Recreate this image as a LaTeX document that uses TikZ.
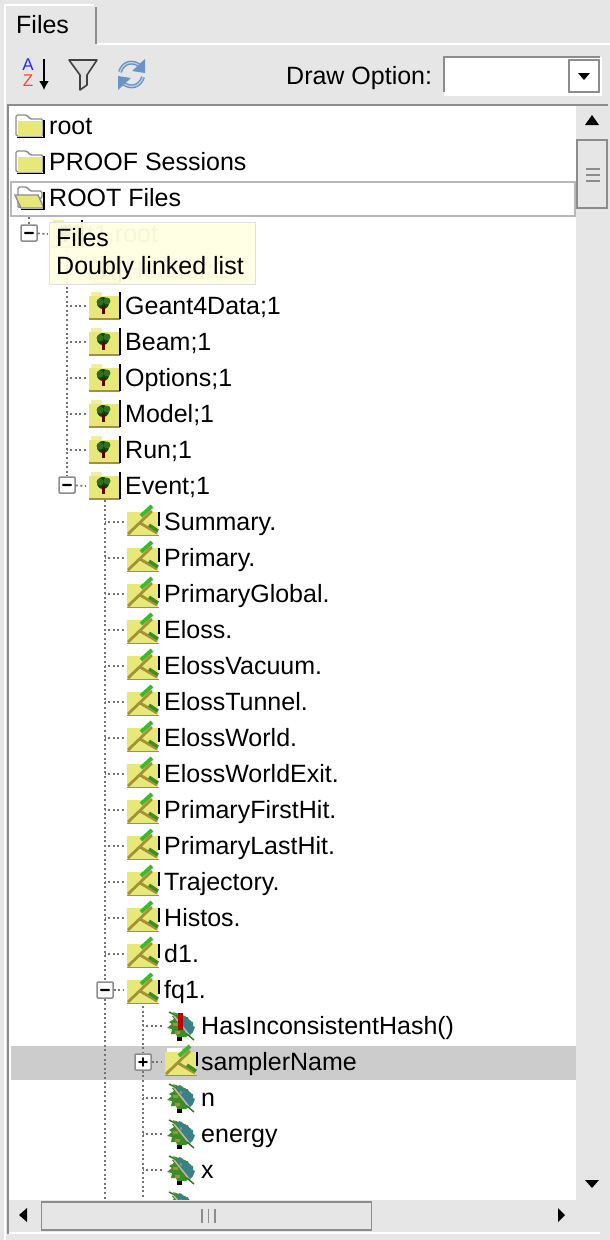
\documentclass[tikz,border=0pt]{standalone}
\usepackage{fontspec}
\setmainfont{Liberation Sans}
\usetikzlibrary{calc,positioning,arrows,arrows.meta,shapes.geometric}
\definecolor{panelgray}{HTML}{E6E6E6}
\definecolor{framegray}{HTML}{8C8C8C}
\definecolor{selgray}{HTML}{CCCCCC}
\definecolor{dithyellow}{HTML}{E8E87A}
\definecolor{olive}{HTML}{A39136}
\definecolor{leafgreen}{HTML}{3C8C28}
\definecolor{brightgreen}{HTML}{3CB82C}
\definecolor{leafteal}{HTML}{38808C}
\definecolor{tipyellow}{HTML}{FFFFE3}
\definecolor{refreshblue}{HTML}{6A94C8}
% icons, drawn around the centre of their box
\newcommand{\foldericon}{%
    \filldraw[fill=white,draw=framegray,line width=1.4pt,rounded corners=1.5pt] (-14,10)--(-14,-11)--(-3,-11)--(0,-7)--(13,-7)--(13,10)--cycle;
    \fill[dithyellow] (-12.5,-5.5) rectangle (12,10);
    \draw[black,line width=1.6pt] (-13,11.5)--(14,11.5)--(14,-6);
}
\newcommand{\openfoldericon}{%
    \filldraw[fill=white,draw=framegray,line width=1.4pt,rounded corners=1.5pt] (-12,10)--(-12,-11)--(-3,-11)--(0,-7)--(12,-7)--(12,0)--cycle;
    \filldraw[fill=dithyellow,draw=framegray,line width=1.4pt] (-15,-3)--(8,-3)--(14,10)--(-9,10)--cycle;
    \draw[black,line width=1.6pt] (-9,11.5)--(14,11.5)--(14,-6);
}
\newcommand{\treeicon}{%
    \fill[dithyellow] (-16,-10) rectangle (14,13);
    \fill[dithyellow!70!white] (-14,-14) rectangle (-3,-10);
    \draw[olive,line width=1.4pt] (-16,13)--(15,13);
    \draw[black,line width=1.6pt] (15,13)--(15,-14);
    \fill[black!70!green] (-2,-3) circle (6);
    \fill[leafgreen!80!black] (-5,-4) circle (3.5) (2,-5) circle (3.5);
    \fill[red!40!black] (-3,0) rectangle (0,8);
}
\newcommand{\branchicon}{%
    \fill[dithyellow] (-16,-10) rectangle (15,13);
    \fill[white] (-14,-14) rectangle (1,-10.5);
    \draw[olive,line width=1.6pt] (-16,13.5)--(16,13.5);
    \draw[black,line width=1.4pt] (16,-10)--(16,4);
    \draw[olive,line width=2.8pt] (-15,12)--(9,-11);
    \draw[olive,line width=2.8pt] (-3,1)--(14,11);
    \draw[brightgreen,line width=4pt] (-2,-6)--(9,-16);
    \draw[leafgreen,line width=3.4pt] (6,3)--(15,9);
}
\newcommand{\leaficon}{%
    \fill[leafgreen] (-8,-14)--(-5,-11)--(-9,-10)--(-7,-7)--(-12,-4)--(-9,-2)--(-14,2)--(-9,3)--(-10,8)--(-5,8)--(-3,12)--(1,11)--(5,11)--(9,8)--(12,1)--(10,-5)--(4,-10)--(-2,-12)--cycle;
    \fill[leafteal] (-2,-13)--(1,-12)--(3,-9)--(7,-9)--(8,-5)--(12,-4)--(12,0)--(14,1)--(12,6)--(8,10)--(2,2)--(-4,-8)--cycle;
    \fill[olive] (-8,-3) rectangle (-3,0) (-6,5) rectangle (-1,8) (-1,-7) rectangle (1,-4);
    \draw[black!30!olive!45!white,line width=1.5pt] (-7,-10)--(9,10);
    \draw[leafgreen!80!black,line width=1.4pt] (6,8)--(13,14) (-12,-14)--(-6,-11);
    \fill[black] (-4,10.5) rectangle (0.5,14.5);
}
\newcommand{\expandminus}{\fill[black] (-5,-1.2) rectangle (5,1.2);}
\newcommand{\expandplus}{\fill[black] (-5,-0.9) rectangle (5,0.9) (-0.9,-5) rectangle (0.9,5);}
\tikzset{
    rowtext/.style={
        anchor=base west,
        inner sep=0pt,
        font=\fontsize{25}{30}\selectfont,
    },
    iconbox/.style={
        rectangle,
        inner sep=0pt,
        minimum width=38pt,
        minimum height=36pt,
    },
    folder/.style={iconbox,path picture={\begin{scope}[shift={(path picture bounding box.center)}]\foldericon\end{scope}}},
    openfolder/.style={iconbox,path picture={\begin{scope}[shift={(path picture bounding box.center)}]\openfoldericon\end{scope}}},
    treeitem/.style={iconbox,path picture={\begin{scope}[shift={(path picture bounding box.center)}]\treeicon\end{scope}}},
    branch/.style={iconbox,path picture={\begin{scope}[shift={(path picture bounding box.center)}]\branchicon\end{scope}}},
    leaf/.style={iconbox,path picture={\begin{scope}[shift={(path picture bounding box.center)}]\leaficon\end{scope}}},
    expander/.style={
        rectangle,
        draw=framegray,
        fill=white,
        line width=1.5pt,
        rounded corners=1pt,
        inner sep=0pt,
        minimum size=16pt,
    },
    minusbox/.style={expander,path picture={\begin{scope}[shift={(path picture bounding box.center)}]\expandminus\end{scope}}},
    plusbox/.style={expander,path picture={\begin{scope}[shift={(path picture bounding box.center)}]\expandplus\end{scope}}},
    treeline/.style={
        draw=black!55,
        line width=1.7pt,
        dash pattern=on 2pt off 2.6pt,
    },
    frameline/.style={draw=framegray,line width=1.5pt},
    gripline/.style={draw=black!45,line width=1.2pt},
}

\begin{document}
\begin{tikzpicture}[x=1pt,y=-1pt]
    \useasboundingbox (0,0) rectangle (610,1240);
    \fill[panelgray] (0,0) rectangle (610,1240);

    % tab and toolbar
    \draw[white,line width=1.5pt] (5,1240) -- (5,44) (97,44) -- (610,44) (5,44) -- (5,5) -- (94,5);
    \draw[frameline] (96,7) -- (96,44);
    \node[rowtext](tabfiles) at (16,33) {Files};
    \node[font=\fontsize{17}{17}\selectfont,text=blue!85,inner sep=0pt](sortA) at (28,65) {A};
    \node[font=\fontsize{17}{17}\selectfont,text=red!75,inner sep=0pt](sortZ) at (28,81) {Z};
    \coordinate (sorttop) at (44,59);
    \coordinate (sortend) at (44,90);
    \draw[-{Latex[length=9pt,width=10pt]},line width=1.5pt] (sorttop) -- (sortend);
    \filldraw[fill=black!12,draw=black!75,line width=1.6pt,line join=round] (69,60) -- (97,60) -- (87,75) -- (87,85) -- (80,90) -- (80,75) -- cycle;
    \draw[refreshblue,line width=4pt] (120,72) .. controls (123,62) and (133,60) .. (140,66);
    \draw[refreshblue!45!white,line width=1.2pt] (120,72) .. controls (123,62) and (133,60) .. (140,66);
    \fill[refreshblue] (145,59) -- (145,73) -- (132,71) -- cycle;
    \draw[refreshblue,line width=4pt] (143,77) .. controls (140,87) and (130,89) .. (123,83);
    \draw[refreshblue!45!white,line width=1.2pt] (143,77) .. controls (140,87) and (130,89) .. (123,83);
    \fill[refreshblue] (118,90) -- (118,76) -- (131,78) -- cycle;
    \node[rowtext](drawopt) at (286,84) {Draw Option:};
    \fill[white] (444,57) rectangle (602,96);
    \draw[frameline] (444,92) -- (444,57) -- (600,57);
    \node[rectangle,draw=framegray,line width=1.5pt,minimum width=30pt,minimum height=32pt,inner sep=0pt](combobtn) at (584,76) {};
    \fill[black] (578,73) -- (590,73) -- (584,80) -- cycle;

    % tree panel
    \fill[white] (8,105) rectangle (576,1200);
    \draw[frameline] (8,1234) -- (8,105) -- (608,105);
    \fill[selgray] (11,1046) rectangle (576,1080);
    \node[rectangle,draw=black!28,line width=1.5pt,fill=white,minimum width=564pt,minimum height=34pt,inner sep=0pt](current) at (293,199) {};

    \node[folder](iroot) at (30,126) {};
    \node[rowtext](root) at (49,134) {root};
    \node[folder](iproof) at (30,162) {};
    \node[rowtext](proof) at (49,170) {PROOF Sessions};
    \node[openfolder](irootfiles) at (30,198) {};
    \node[rowtext](rootfiles) at (49,206) {ROOT Files};

    % faint row under the tooltip
    \coordinate (trunkA) at (29,217);
    \node[minusbox](boxfile) at (29,233) {};
    \node[treeitem](ifile) at (67,234) {};
    \node[rowtext,text=black!55](file) at (87,242) {t1.root};
    \draw[treeline] (trunkA) -- (boxfile);
    \draw[treeline] (boxfile) -- (ifile.west);
    \node[treeitem](iheader) at (105,270) {};
    \node[rowtext,text=black!55](header) at (125,278) {Header;1};

    % first level
    \coordinate (trunkB) at (67,250);
    \node[minusbox](boxevent) at (67,485) {};
    \draw[treeline] (trunkB) -- (boxevent);
    \foreach \nm/\txt/\y in {geant/Geant4Data;1/306,beam/Beam;1/342,options/Options;1/378,model/Model;1/414,run/Run;1/450,event/Event;1/486}{
        \node[treeitem](i\nm) at (105,\y) {};
        \node[rowtext](\nm) at (125,\y+8) {\txt};
    }
    \foreach \nm in {geant,beam,options,model,run}{
        \draw[treeline] (i\nm.west) -- (i\nm.west -| trunkB);
    }
    \draw[treeline] (boxevent) -- (ievent.west);

    % second level
    \coordinate (trunkC) at (105,500);
    \coordinate (trunkCend) at (105,1200);
    \node[minusbox](boxfq) at (105,990) {};
    \draw[treeline] (trunkC) -- (boxfq);
    \draw[treeline] (boxfq) -- (trunkCend);
    \foreach \nm/\txt/\y in {summary/Summary./522,primary/Primary./558,primglobal/PrimaryGlobal./594,eloss/Eloss./630,elossvac/ElossVacuum./666,elosstun/ElossTunnel./702,elossworld/ElossWorld./738,elossexit/ElossWorldExit./774,firsthit/PrimaryFirstHit./810,lasthit/PrimaryLastHit./846,traj/Trajectory./882,histos/Histos./918,dnode/d1./954}{
        \node[branch](i\nm) at (143,\y) {};
        \node[rowtext](\nm) at (164,\y+8) {\txt};
        \draw[treeline] (i\nm.west) -- (i\nm.west -| trunkC);
    }
    \node[branch](ifq) at (143,990) {};
    \node[rowtext](fq) at (164,998) {fq1.};
    \draw[treeline] (boxfq) -- (ifq.west);

    % third level
    \coordinate (trunkD) at (143,1006);
    \coordinate (trunkDend) at (143,1200);
    \node[plusbox](boxsampler) at (143,1062) {};
    \draw[treeline] (trunkD) -- (boxsampler);
    \draw[treeline] (boxsampler) -- (trunkDend);
    \node[branch](isampler) at (181,1062) {};
    \node[rowtext](sampler) at (201,1070) {samplerName};
    \draw[treeline] (boxsampler) -- (isampler.west);
    \foreach \nm/\txt/\y in {hash/HasInconsistentHash()/1026,nleaf/n/1098,energy/energy/1134,xleaf/x/1170}{
        \node[leaf](i\nm) at (181,\y) {};
        \node[rowtext](\nm) at (201,\y+8) {\txt};
        \draw[treeline] (i\nm.west) -- (i\nm.west -| trunkD);
    }
    \node[leaf](inext) at (181,1206) {};
    \fill[red!75!black] (178,1013) rectangle (183,1030);

    % tooltip
    \node[rectangle,fill=tipyellow,fill opacity=0.93,text opacity=1,draw=black!12,anchor=north west,minimum width=206pt,minimum height=62pt,inner sep=0pt](tooltip) at (49,222) {};
    \node[rowtext](tipfiles) at (56,246) {Files};
    \node[rowtext](tipdoubly) at (56,274) {Doubly linked list};

    % scrollbars
    \fill[panelgray] (576,106) rectangle (608,1200);
    \fill[panelgray] (9,1200) rectangle (608,1232);
    \draw[white,line width=1.5pt] (9,1233) -- (600,1233);
    \fill[black] (592,115) -- (599,125) -- (585,125) -- cycle;
    \node[rectangle,draw=framegray,line width=1.5pt,minimum width=30pt,minimum height=68pt,inner sep=0pt](vthumb) at (592,174) {};
    \draw[gripline] (586,169) -- (600,169) (586,175) -- (600,175) (586,181) -- (600,181);
    \fill[black] (585,1180) -- (599,1180) -- (592,1188) -- cycle;
    \node[rectangle,draw=framegray,line width=1.5pt,minimum width=330pt,minimum height=28pt,inner sep=0pt](hthumb) at (206.5,1216) {};
    \draw[gripline] (202,1209) -- (202,1223) (208.5,1209) -- (208.5,1223) (215,1209) -- (215,1223);
    \fill[black] (19,1215) -- (27,1208) -- (27,1222) -- cycle;
    \fill[black] (565,1215) -- (558,1208) -- (558,1222) -- cycle;
\end{tikzpicture}
\end{document}
